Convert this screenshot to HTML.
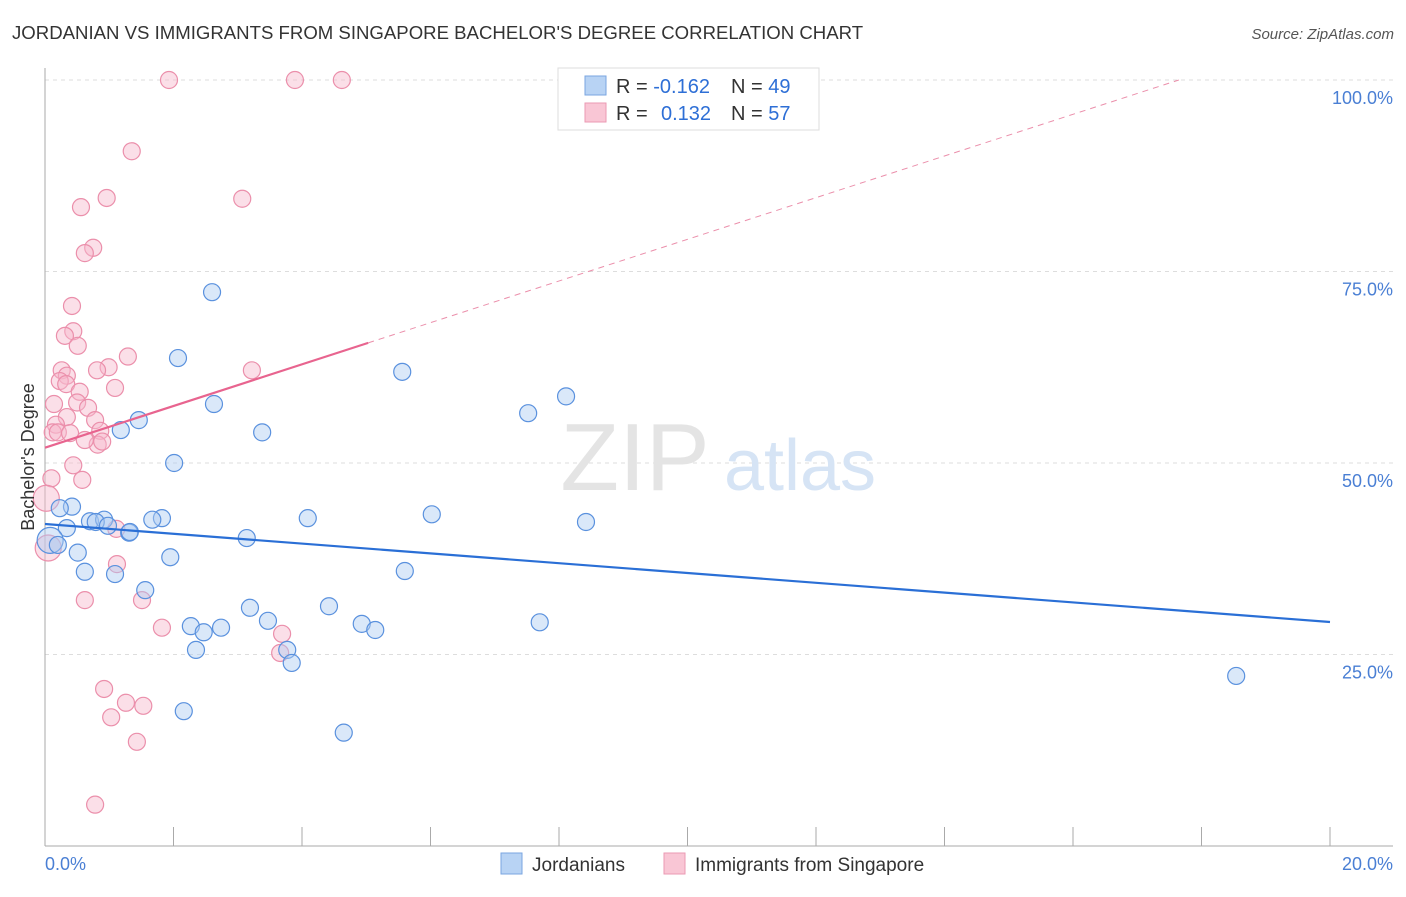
<!DOCTYPE html>
<html><head><meta charset="utf-8"><style>
body{margin:0;background:#fff;font-family:"Liberation Sans",sans-serif;}
svg text{font-family:"Liberation Sans",sans-serif;}
</style></head><body>
<svg id="chart" width="1406" height="892" xmlns="http://www.w3.org/2000/svg">
<text x="12" y="39" font-size="18.6" fill="#333">JORDANIAN VS IMMIGRANTS FROM SINGAPORE BACHELOR'S DEGREE CORRELATION CHART</text>
<text x="1394" y="39" font-size="15" fill="#555" text-anchor="end" font-style="italic">Source: ZipAtlas.com</text>
<g id="grid"></g>
<text x="635" y="490" font-size="96" fill="#e4e4e4" font-family="Liberation Serif" text-anchor="middle">ZIP</text>
<text x="800" y="490" font-size="72" fill="#d6e4f5" text-anchor="middle">atlas</text>
<g id="marks"></g>
<text transform="translate(34,457) rotate(-90)" font-size="18" fill="#333" text-anchor="middle">Bachelor's Degree</text>
<text x="45" y="870" font-size="18" fill="#4a7fd4">0.0%</text>
<text x="1393" y="870" font-size="18" fill="#4a7fd4" text-anchor="end">20.0%</text>
<g>
<rect x="558" y="68" width="261" height="62" fill="#fff" stroke="#ddd"/>
<rect x="585" y="76" width="21" height="19" fill="#b8d3f4" stroke="#7aa6e0"/>
<rect x="585" y="103" width="21" height="19" fill="#f9c6d5" stroke="#eb9ab3"/>
<text x="616" y="93" font-size="20" fill="#333">R = <tspan fill="#2e6fd6">-0.162</tspan></text>
<text x="731" y="93" font-size="20" fill="#333">N = <tspan fill="#2e6fd6">49</tspan></text>
<text x="616" y="120" font-size="20" fill="#333">R = <tspan fill="#2e6fd6" x="661">0.132</tspan></text>
<text x="731" y="120" font-size="20" fill="#333">N = <tspan fill="#2e6fd6">57</tspan></text>
</g>
<g>
<rect x="501" y="853" width="21" height="21" fill="#b8d3f4" stroke="#7aa6e0"/>
<text x="532" y="871" font-size="19" fill="#333">Jordanians</text>
<rect x="664" y="853" width="21" height="21" fill="#f9c6d5" stroke="#eb9ab3"/>
<text x="695" y="871" font-size="19" fill="#333">Immigrants from Singapore</text>
</g>
</svg>
<script>
const yTicks=[25,50,75,100];
const yTickLabels=["25.0%","50.0%","75.0%","100.0%"];
const xTicks=[0,2,4,6,8,10,12,14,16,18,20];
const blueX=[2.60,2.07,5.56,8.11,7.52,2.63,1.46,1.18,3.38,2.01,0.42,0.23,6.02,4.09,1.82,1.67,0.70,0.92,0.79,0.34,0.98,8.42,1.31,3.14,0.08,0.51,1.95,5.60,0.62,1.09,1.56,3.19,4.42,3.47,7.70,4.93,5.14,2.27,2.74,2.47,2.35,3.77,3.84,18.54,2.16,4.65,1.32,0.20];
const blueY=[72.3,63.7,61.9,58.7,56.5,57.7,55.6,54.3,54.0,50.0,44.3,44.1,43.3,42.8,42.8,42.6,42.4,42.6,42.3,41.5,41.8,42.3,40.9,40.2,39.9,38.3,37.7,35.9,35.8,35.5,33.4,31.1,31.3,29.4,29.2,29.0,28.2,28.7,28.5,27.9,25.6,25.6,23.9,22.2,17.6,14.8,41.0,39.3];
const pinkX=[1.93,3.89,4.62,1.35,3.07,0.96,0.56,0.75,0.62,0.42,0.44,0.31,0.51,1.29,3.22,0.26,0.34,0.99,0.81,0.23,0.33,0.54,1.09,0.14,0.50,0.67,0.34,0.78,0.17,0.12,0.20,0.86,0.39,0.82,0.89,0.62,0.44,0.58,0.10,0.02,0.05,1.11,1.12,0.62,1.51,1.82,3.69,3.66,0.92,1.53,1.26,1.03,1.43,0.78];
const pinkY=[100,100,100,90.7,84.5,84.6,83.4,78.1,77.4,70.5,67.2,66.6,65.3,63.9,62.1,62.1,61.4,62.5,62.1,60.7,60.3,59.3,59.8,57.7,57.9,57.2,56.0,55.6,55.0,54.0,54.0,54.2,53.9,52.4,52.8,53.0,49.7,47.8,48.0,45.4,38.9,41.4,36.8,32.1,32.1,28.5,27.7,25.2,20.5,18.3,18.7,16.8,13.6,5.4];
const blueTrend=[42.04,29.24];
const pinkTrend=[52.0,2.72,5.03];
const X0=45,X1=1330,Y0=846,Y100=80;
const sx=v=>X0+(v/20)*(X1-X0);
const sy=v=>Y0-(v/100)*(Y0-Y100);
const NS="http://www.w3.org/2000/svg";
const grid=document.getElementById('grid'),marks=document.getElementById('marks');
function mk(tag,attrs,parent){const e=document.createElementNS(NS,tag);for(const k in attrs)e.setAttribute(k,attrs[k]);parent.appendChild(e);return e;}
yTicks.forEach((t,i)=>{
 const l=mk('line',{x1:45,x2:1393,y1:sy(t),y2:sy(t),stroke:'#ddd','stroke-dasharray':'4,4'},grid);
 
 
 const tx=mk('text',{x:1393,y:sy(t)+24,'font-size':18,fill:'#4a7fd4','text-anchor':'end'},grid);
 tx.textContent=yTickLabels[i];
 
 
});
const ax=mk('line',{x1:45,x2:45,y1:68,y2:846,stroke:'#aaa'},grid);


const bx=mk('line',{x1:45,x2:1393,y1:846,y2:846,stroke:'#aaa'},grid);


xTicks.forEach(t=>{
 const l=mk('line',{x1:sx(t),x2:sx(t),y1:827,y2:846,stroke:'#aaa'},grid);
 
 
});
function dots(xs,ys,fill,stroke,name){
 xs.forEach((x,i)=>{
  const big=x<0.09;
  const c=mk('circle',{cx:sx(x),cy:sy(ys[i]),r:big?13:8.5,fill:fill,'fill-opacity':0.45,stroke:stroke,'stroke-width':1.2},marks);
  
  
 });
}
dots(pinkX,pinkY,'#f7b8cb','#eb8fab','singapore-point');
dots(blueX,blueY,'#aecbf2','#5a91de','jordanian-point');
const bl=mk('line',{x1:sx(0),y1:sy(blueTrend[0]),x2:sx(20),y2:sy(blueTrend[1]),stroke:'#2a6fd6','stroke-width':2.2},marks);


const pe=(100-pinkTrend[0])/pinkTrend[1];
const pd=mk('line',{x1:sx(pinkTrend[2]),y1:sy(pinkTrend[0]+pinkTrend[1]*pinkTrend[2]),x2:sx(pe),y2:sy(100),stroke:'#eb8fab','stroke-width':1,'stroke-dasharray':'6,5'},marks);


const pl=mk('line',{x1:sx(0),y1:sy(pinkTrend[0]),x2:sx(pinkTrend[2]),y2:sy(pinkTrend[0]+pinkTrend[1]*pinkTrend[2]),stroke:'#e8648f','stroke-width':2.2},marks);


</script>
</body></html>
